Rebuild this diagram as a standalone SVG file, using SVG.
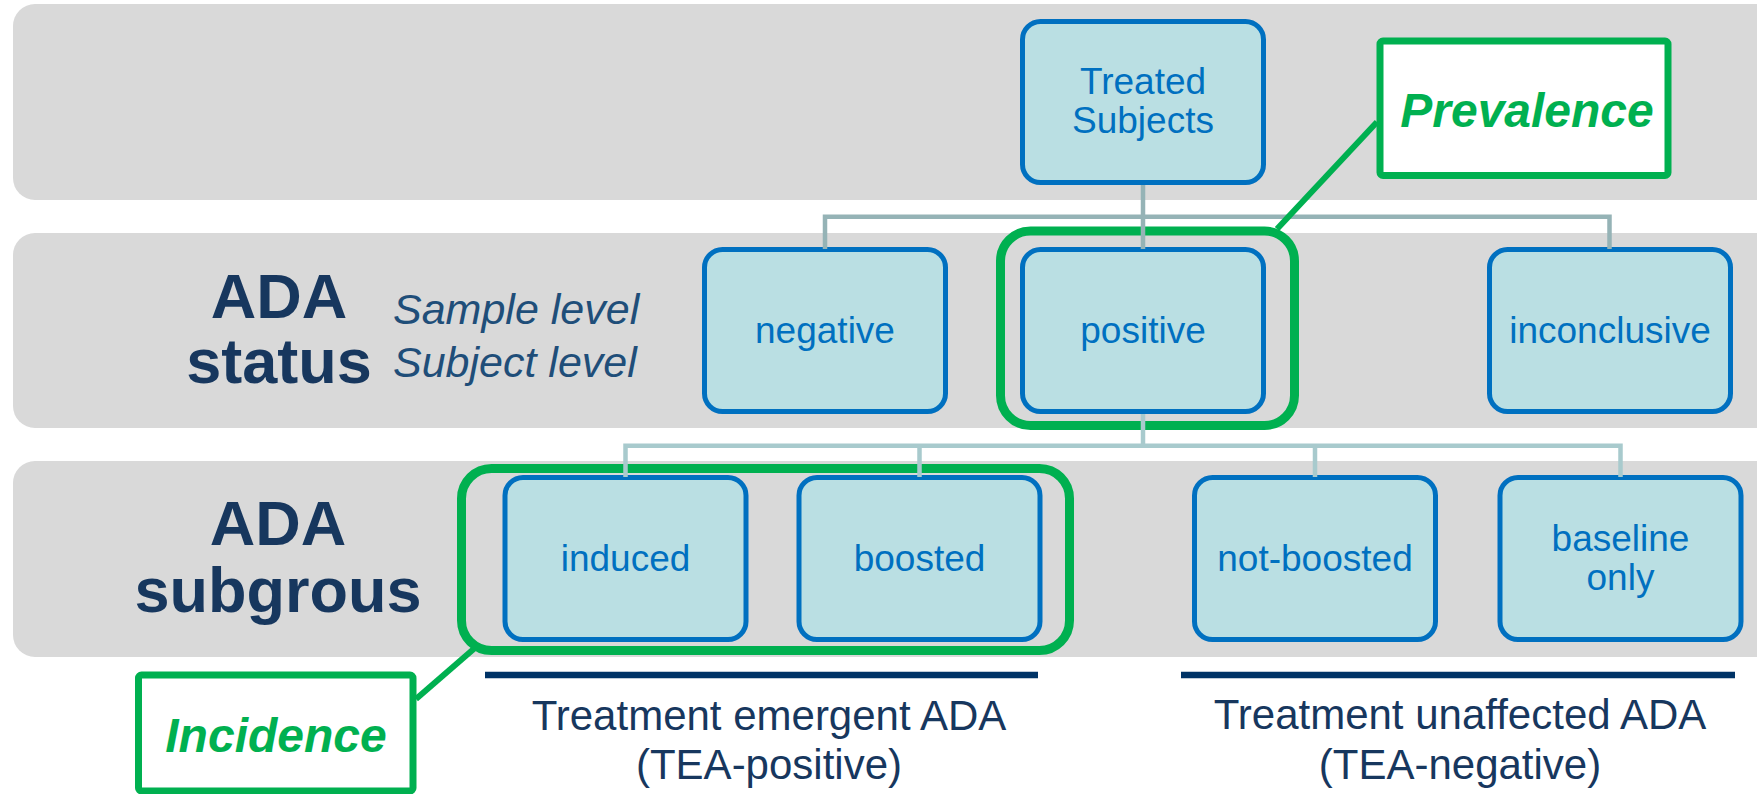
<svg xmlns="http://www.w3.org/2000/svg" width="1757" height="794" viewBox="0 0 1757 794">
<style>
.band{fill:#D9D9D9}
.node rect{fill:#BADFE3;stroke:#0070C0;stroke-width:5}
.node text{font-family:"Liberation Sans",Arial,sans-serif;font-size:37px;fill:#0070C0;text-anchor:middle}
.hl{fill:none;stroke:#00B050;stroke-width:9}
.call rect{fill:#FFFFFF;stroke:#00B050;stroke-width:7}
.call text{font-family:"Liberation Sans",Arial,sans-serif;font-size:48px;font-weight:bold;font-style:italic;fill:#00B050;text-anchor:middle}
.lead{stroke:#00B050;stroke-width:6;fill:none}
.title{font-family:"Liberation Sans",Arial,sans-serif;font-size:63px;font-weight:bold;fill:#17375E;text-anchor:middle}
.sub{font-family:"Liberation Sans",Arial,sans-serif;font-size:43px;font-style:italic;fill:#1F4E79}
.cap{font-family:"Liberation Sans",Arial,sans-serif;font-size:42px;fill:#17375E;text-anchor:middle}
.bar{stroke:#003366;stroke-width:6.5}
</style>
<g id="bands">
<rect class="band" x="13" y="4" width="1780" height="196" rx="22"/>
<rect class="band" x="13" y="233" width="1780" height="195" rx="22"/>
<rect class="band" x="13" y="461" width="1780" height="196" rx="22"/>
</g>
<g id="labels">
<text class="title" x="279" y="318">ADA</text>
<text class="title" x="279" y="383">status</text>
<text class="sub" x="393" y="324">Sample level</text>
<text class="sub" x="393" y="377">Subject level</text>
<text class="title" x="278" y="545">ADA</text>
<text class="title" x="278" y="612">subgrous</text>
</g>
<g id="highlights">
<rect class="hl" x="1000.5" y="231" width="294" height="194.5" rx="30"/>
<rect class="hl" x="461.5" y="468.5" width="608" height="182" rx="30"/>
</g>
<g id="node-treated" class="node">
<rect x="1022.5" y="21.5" width="241" height="161" rx="18"/>
<text x="1143" y="94">Treated</text>
<text x="1143" y="133">Subjects</text>
</g>
<g id="node-negative" class="node">
<rect x="704.5" y="249.5" width="241" height="162" rx="18"/>
<text x="825" y="343">negative</text>
</g>
<g id="node-positive" class="node">
<rect x="1022.5" y="249.5" width="241" height="162" rx="18"/>
<text x="1143" y="343">positive</text>
</g>
<g id="node-inconclusive" class="node">
<rect x="1489.5" y="249.5" width="241" height="162" rx="18"/>
<text x="1610" y="343">inconclusive</text>
</g>
<g id="node-induced" class="node">
<rect x="505" y="477.5" width="241" height="162" rx="18"/>
<text x="625.5" y="571">induced</text>
</g>
<g id="node-boosted" class="node">
<rect x="799" y="477.5" width="241" height="162" rx="18"/>
<text x="919.5" y="571">boosted</text>
</g>
<g id="node-notboosted" class="node">
<rect x="1194.5" y="477.5" width="241" height="162" rx="18"/>
<text x="1315" y="571">not-boosted</text>
</g>
<g id="node-baseline" class="node">
<rect x="1500" y="477.5" width="241" height="162" rx="18"/>
<text x="1620.5" y="551">baseline</text>
<text x="1620.5" y="590">only</text>
</g>
<g id="connectors" fill="none" stroke-width="4.5">
<path d="M1143 185 V249 M825 249 V216.8 H1609.5 V249" stroke="#95B3B6"/>
<path d="M1143 414 V445.8 M625.5 477 V445.8 H1620.5 V477 M919.5 445.8 V477 M1315 445.8 V477" stroke="#A8CACD"/>
</g>
<g id="callout-prevalence" class="call">
<line class="lead" x1="1377" y1="122" x2="1277" y2="229"/>
<rect x="1380" y="41" width="288" height="134.5" rx="3"/>
<text x="1527" y="127">Prevalence</text>
</g>
<g id="callout-incidence" class="call">
<line class="lead" x1="416" y1="699" x2="476" y2="647"/>
<rect x="138.5" y="675" width="274.5" height="116" rx="3"/>
<text x="276" y="752">Incidence</text>
</g>
<g id="groups">
<line class="bar" x1="485" y1="675" x2="1038" y2="675"/>
<line class="bar" x1="1181" y1="675" x2="1735" y2="675"/>
<text class="cap" x="769" y="730">Treatment emergent ADA</text>
<text class="cap" x="769" y="779">(TEA-positive)</text>
<text class="cap" x="1460" y="729">Treatment unaffected ADA</text>
<text class="cap" x="1460" y="779">(TEA-negative)</text>
</g>
</svg>
